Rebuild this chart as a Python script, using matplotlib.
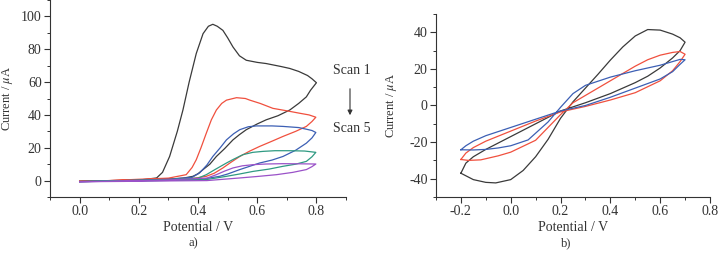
import matplotlib
matplotlib.use("Agg")
import matplotlib.pyplot as plt
from matplotlib.patches import FancyArrowPatch
from matplotlib.ticker import MultipleLocator

plt.rcParams["font.family"] = ["Liberation Serif", "DejaVu Serif"]
plt.rcParams["mathtext.fontset"] = "stix"

# ---- panel a: five successive scans, 0 -> 0.8 V and back
a_black_v = [0.0, 0.1, 0.2, 0.26, 0.28, 0.304, 0.33, 0.349, 0.37, 0.394, 0.417, 0.435, 0.45, 0.465, 0.484,
             0.50, 0.518, 0.54, 0.563, 0.60, 0.63, 0.68, 0.71, 0.74, 0.77, 0.785, 0.80,
             0.78, 0.766, 0.74, 0.71, 0.67, 0.63, 0.60, 0.563, 0.54, 0.518, 0.49, 0.462, 0.44, 0.417,
             0.40, 0.383, 0.35, 0.29, 0.15, 0.0]
a_black_i = [-0.5, -0.2, 0.3, 1.6, 5, 14.7, 30, 43, 60, 77.4, 89.5, 94, 95.2, 94, 91.5,
             87, 81.4, 76, 73.3, 72, 71.3, 69.5, 68.3, 66.5, 64, 62, 59.6,
             55, 51, 47, 43, 39.5, 37, 34.5, 31, 28, 24.8, 19.5, 14.7, 10, 6.7,
             4.2, 2.6, 1.5, 0.8, 0.2, -0.5]

a_red_v = [0.0, 0.1, 0.2, 0.30, 0.36, 0.38, 0.394, 0.41, 0.428, 0.445, 0.462, 0.48, 0.496, 0.53, 0.56,
           0.575, 0.61, 0.653, 0.70, 0.744, 0.775, 0.798,
           0.785, 0.766, 0.73, 0.687, 0.65, 0.608, 0.575, 0.541, 0.51, 0.484, 0.455, 0.428, 0.39,
           0.3, 0.15, 0.0]
a_red_i = [-0.4, 0.0, 0.8, 1.5, 3.6, 8, 12.7, 20, 28.9, 37, 43, 47, 49, 50.5, 50,
           49, 47, 44, 42.5, 41, 40, 38.6,
           36, 33, 30, 26.9, 24, 20.8, 18, 14.7, 11, 7.7, 4.5, 2.6, 1.5,
           1.0, 0.2, -0.4]

a_blue_v = [0.0, 0.1, 0.2, 0.30, 0.38, 0.405, 0.43, 0.45, 0.475, 0.496, 0.52, 0.541, 0.57, 0.597, 0.65,
            0.687, 0.74, 0.766, 0.785, 0.798,
            0.785, 0.766, 0.73, 0.687, 0.65, 0.608, 0.541, 0.50, 0.473, 0.405, 0.3, 0.15, 0.0]
a_blue_i = [-0.6, -0.3, 0.3, 0.8, 2, 4.6, 9.5, 14.7, 20, 24.8, 28.5, 31, 32.8, 33.3, 33.3,
            33, 32.3, 31.3, 30.5, 29.3,
            26, 22.8, 18.5, 14.7, 12.5, 10.7, 6.7, 4, 2.6, 0.6, 0.2, -0.2, -0.6]

a_green_v = [0.0, 0.1, 0.2, 0.30, 0.40, 0.428, 0.46, 0.496, 0.52, 0.552, 0.585, 0.62, 0.66, 0.71, 0.76,
             0.798,
             0.785, 0.766, 0.73, 0.687, 0.64, 0.586, 0.54, 0.496, 0.428, 0.3, 0.15, 0.0]
a_green_i = [-0.6, -0.3, 0.2, 0.6, 1.5, 3.6, 7, 10.7, 13, 15.8, 17.2, 17.8, 18.2, 18.2, 18,
             17.2,
             14.5, 11.7, 10, 8.7, 7, 5.6, 4, 2.6, 0.6, 0.1, -0.3, -0.6]

a_purple_v = [0.0, 0.1, 0.2, 0.30, 0.43, 0.462, 0.49, 0.518, 0.55, 0.586, 0.63, 0.687, 0.75, 0.798,
              0.785, 0.766, 0.72, 0.665, 0.60, 0.541, 0.43, 0.3, 0.15, 0.0]
a_purple_i = [-0.7, -0.4, 0.0, 0.4, 1.5, 3.6, 5.8, 7.7, 9, 9.7, 10.1, 10.3, 10.2, 10.1,
              8.5, 6.7, 5, 3.6, 2.5, 1.6, 0.0, -0.2, -0.5, -0.7]

# ---- panel b: three loops, -0.2 -> 0.7 V and back
b_black_v = [-0.2, -0.15, -0.1, -0.06, 0.0, 0.05, 0.1, 0.15, 0.2, 0.25, 0.3, 0.35, 0.4, 0.45, 0.5, 0.55,
             0.6, 0.65, 0.68, 0.7,
             0.68, 0.65, 0.6, 0.55, 0.5, 0.45, 0.4, 0.3, 0.2, 0.1, 0.0, -0.05, -0.1, -0.15, -0.18, -0.2]
b_black_i = [-37, -40.5, -42, -42.3, -40.5, -35.5, -28, -18.5, -7, 2, 9.5, 17, 24.8, 32, 38, 41.5,
             41.2, 39, 37, 34.6,
             30, 26, 20.5, 16, 12.5, 9.5, 6.5, 1.5, -3, -10, -17, -20.5, -24, -28, -31.5, -37]

b_red_v = [-0.2, -0.17, -0.12, -0.05, 0.0, 0.1, 0.2, 0.25, 0.3, 0.4, 0.5, 0.55, 0.6, 0.65, 0.68, 0.7,
           0.68, 0.65, 0.6, 0.5, 0.4, 0.3, 0.2, 0.1, 0.0, -0.1, -0.15, -0.18, -0.2]
b_red_i = [-29.5, -30, -29.7, -27.5, -25.5, -19, -5, 1.5, 5.5, 13.5, 21.5, 25, 27.5, 29, 29.5, 28,
           24, 19, 13.5, 7, 3, -0.5, -3.5, -8.5, -14, -19.5, -23, -26, -29.5]

b_blue_v = [-0.2, -0.15, -0.1, -0.05, 0.0, 0.07, 0.15, 0.2, 0.25, 0.3, 0.4, 0.5, 0.6, 0.68, 0.7,
            0.68, 0.65, 0.6, 0.5, 0.4, 0.3, 0.2, 0.1, 0.0, -0.1, -0.15, -0.18, -0.2]
b_blue_i = [-24.2, -24.3, -24, -23.2, -22, -18.8, -9, -1, 6.5, 11, 15.5, 19, 22, 25.2, 25,
            22.5, 18.5, 14.5, 9.5, 4.5, 0, -3, -7.5, -12, -16.5, -19.5, -22, -24.2]

c_black = "#3a3a3a"
c_red = "#f0503e"
c_blue = "#3c5fb4"
c_green = "#2f9a82"
c_purple = "#9a52c8"
c_text = "#333333"

fig = plt.figure(figsize=(7.23, 2.54), dpi=100)
ax1 = fig.add_axes([0.0692, 0.2244, 0.4094, 0.7756])
ax2 = fig.add_axes([0.603, 0.2244, 0.379, 0.7205])

lw = 0.9
ax1.plot(a_black_v, a_black_i, color=c_black, lw=lw)
ax1.plot(a_red_v, a_red_i, color=c_red, lw=lw)
ax1.plot(a_blue_v, a_blue_i, color=c_blue, lw=lw)
ax1.plot(a_green_v, a_green_i, color=c_green, lw=lw)
ax1.plot(a_purple_v, a_purple_i, color=c_purple, lw=lw)

ax2.plot(b_black_v, b_black_i, color=c_black, lw=lw)
ax2.plot(b_red_v, b_red_i, color=c_red, lw=lw)
ax2.plot(b_blue_v, b_blue_i, color=c_blue, lw=lw)

ax1.set_xlim(-0.1, 0.9)
ax1.set_ylim(-10, 110)
ax1.set_xticks([0.0, 0.2, 0.4, 0.6, 0.8])
ax1.xaxis.set_minor_locator(MultipleLocator(0.1))
ax1.set_yticks([0, 20, 40, 60, 80, 100])
ax1.yaxis.set_minor_locator(MultipleLocator(10))
ax1.set_xticklabels(["0.0", "0.2", "0.4", "0.6", "0.8"])

ax2.set_xlim(-0.3, 0.8)
ax2.set_ylim(-50, 50)
ax2.set_xticks([-0.2, 0.0, 0.2, 0.4, 0.6, 0.8])
ax2.xaxis.set_minor_locator(MultipleLocator(0.1))
ax2.set_yticks([-40, -20, 0, 20, 40])
ax2.yaxis.set_minor_locator(MultipleLocator(10))
ax2.set_xticklabels(["-0.2", "0.0", "0.2", "0.4", "0.6", "0.8"])
ax2.set_yticklabels(["-40", "-20", "0", "20", "40"])

for ax in (ax1, ax2):
    ax.spines["top"].set_visible(False)
    ax.spines["right"].set_visible(False)
    for s in ("left", "bottom"):
        ax.spines[s].set_linewidth(0.8)
        ax.spines[s].set_color(c_text)
    ax.tick_params(which="major", direction="out", length=4, width=0.8, pad=2, labelsize=10,
                   colors=c_text, labelcolor=c_text)
    ax.tick_params(which="minor", direction="out", length=2, width=0.7, colors=c_text)
    ax.set_xlabel("Potential / V", fontsize=10, color=c_text, labelpad=2)
    ax.set_ylabel(r"Current / $\mu$A", fontsize=9, color=c_text)

# y label positions (axes fraction)
ax1.yaxis.set_label_coords(-0.118, 0.5)
ax2.yaxis.set_label_coords(-0.135, 0.5)

fig.text(0.487, 1 - 71 / 254, "Scan 1", fontsize=10, color=c_text, ha="center", va="center")
fig.text(0.487, 1 - 128 / 254, "Scan 5", fontsize=10, color=c_text, ha="center", va="center")
fig.add_artist(FancyArrowPatch(
    (350 / 723, 1 - 86 / 254), (350 / 723, 1 - 118 / 254), transform=fig.transFigure,
    arrowstyle="-|>", mutation_scale=7, color=c_text, lw=0.8))

fig.text(193 / 723, 1 - 243 / 254, "a)", fontsize=9, color=c_text, ha="center", va="center")
fig.text(566 / 723, 1 - 243 / 254, "b)", fontsize=9, color=c_text, ha="center", va="center")

fig.savefig("out.png", dpi=100)
